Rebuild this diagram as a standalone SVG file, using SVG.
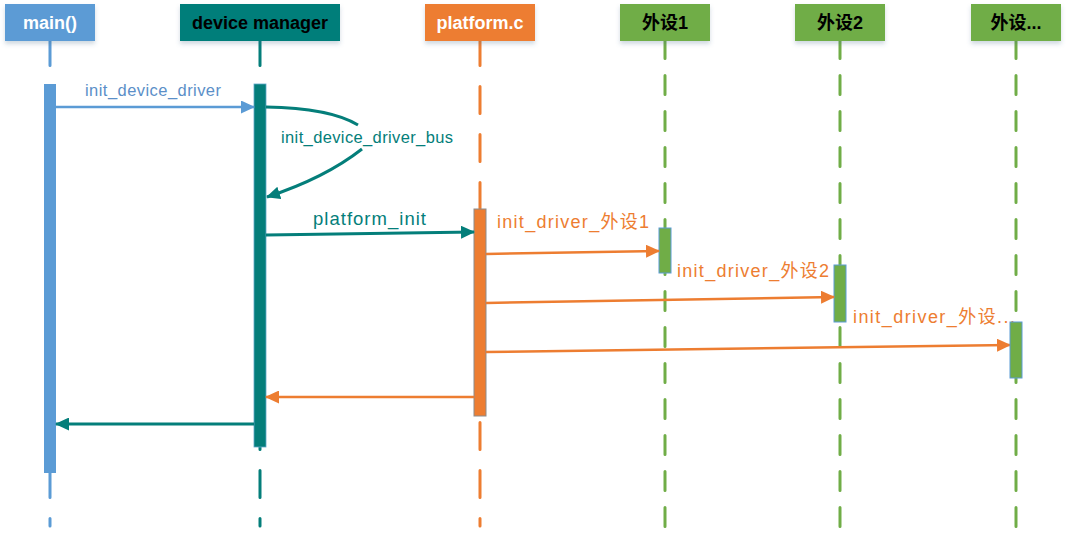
<svg xmlns="http://www.w3.org/2000/svg" width="1066" height="537" viewBox="0 0 1066 537">
  <style>
    text { font-family: 'Liberation Sans', 'Noto Sans CJK SC', sans-serif; }
    .hd { font-size: 18px; font-weight: bold; text-anchor: middle; }
    .lbl { font-size: 18px; }
    .ll { fill: none; stroke-width: 3; stroke-linecap: round; }
    .llA { stroke-dasharray: 27 21; }
    .llG { stroke-dasharray: 19 17; stroke: #70AD47; }
    .blue { fill: #5B9BD5; }
    .teal { fill: #047E7A; }
    .orange { fill: #ED7D31; }
    .green { fill: #70AD47; }
    .msg { fill: none; stroke-linecap: butt; }
  </style>
  <defs>
    <filter id="sh" x="-10%" y="-20%" width="120%" height="160%">
      <feDropShadow dx="0" dy="3" stdDeviation="2" flood-color="#4a6a8a" flood-opacity="0.25"/>
    </filter>
    <marker id="aBlue" markerUnits="userSpaceOnUse" markerWidth="14" markerHeight="13" refX="13" refY="6.5" orient="auto">
      <path d="M0,0 L14,6.5 L0,13 z" fill="#5B9BD5"/>
    </marker>
    <marker id="aTeal" markerUnits="userSpaceOnUse" markerWidth="14" markerHeight="13" refX="13" refY="6.5" orient="auto">
      <path d="M0,0 L14,6.5 L0,13 z" fill="#047E7A"/>
    </marker>
    <marker id="aOrange" markerUnits="userSpaceOnUse" markerWidth="14" markerHeight="13" refX="13" refY="6.5" orient="auto">
      <path d="M0,0 L14,6.5 L0,13 z" fill="#ED7D31"/>
    </marker>
  </defs>
  <rect width="1066" height="537" fill="#ffffff"/>

  <g id="node-main">
    <line class="ll llA" x1="50" y1="38.5" x2="50" y2="526" stroke="#5B9BD5"/>
    <rect x="5" y="4" width="90" height="37" class="blue" filter="url(#sh)"/>
    <text x="50" y="29" class="hd" fill="#ffffff">main()</text>
    <rect x="44" y="84" width="12" height="389" class="blue"/>
  </g>

  <g id="node-device-manager">
    <line class="ll llA" x1="260" y1="38.5" x2="260" y2="526" stroke="#047E7A"/>
    <rect x="180" y="4" width="160" height="37" class="teal" filter="url(#sh)"/>
    <text x="260" y="29" class="hd" fill="#000000">device manager</text>
    <rect x="254" y="84" width="12" height="363" class="teal" stroke="#5fa8c8" stroke-width="0.8"/>
  </g>

  <g id="node-platform">
    <line class="ll llA" x1="480" y1="38.5" x2="480" y2="526" stroke="#ED7D31"/>
    <rect x="425" y="4" width="110" height="37" class="orange" filter="url(#sh)"/>
    <text x="480" y="29" class="hd" fill="#ffffff">platform.c</text>
    <rect x="474" y="209" width="12" height="207" class="orange" stroke="#8c8c8c" stroke-width="1"/>
  </g>

  <g id="node-dev1">
    <line class="ll llG" x1="665" y1="39.5" x2="665" y2="526.5"/>
    <rect x="620" y="4" width="90" height="37" class="green" filter="url(#sh)"/>
    <text x="665" y="29" class="hd" fill="#000000">外设1</text>
    <rect x="659" y="228" width="12" height="45" class="green" stroke="#5B9BD5" stroke-width="1"/>
  </g>

  <g id="node-dev2">
    <line class="ll llG" x1="840" y1="39.5" x2="840" y2="526.5"/>
    <rect x="795" y="4" width="90" height="37" class="green" filter="url(#sh)"/>
    <text x="840" y="29" class="hd" fill="#000000">外设2</text>
    <rect x="834" y="265" width="12" height="57" class="green" stroke="#5B9BD5" stroke-width="1"/>
  </g>

  <g id="connectors">
    <path class="msg" d="M56,107 L254,107" stroke="#5B9BD5" stroke-width="2.5" marker-end="url(#aBlue)"/>
    <text x="85" y="96" font-size="16.5" fill="#5B8FC8" textLength="136" lengthAdjust="spacing">init_device_driver</text>

    <path class="msg" d="M266,107 Q330,108 358,125" stroke="#047E7A" stroke-width="3"/>
    <path class="msg" d="M362,149 Q325,178 267,197" stroke="#047E7A" stroke-width="3" marker-end="url(#aTeal)"/>
    <text x="281" y="143" font-size="16.5" fill="#047E7A" textLength="172" lengthAdjust="spacing">init_device_driver_bus</text>

    <path class="msg" d="M266,235 L474,232" stroke="#047E7A" stroke-width="3" marker-end="url(#aTeal)"/>
    <text x="313" y="225" font-size="18.5" fill="#047E7A" textLength="113" lengthAdjust="spacing">platform_init</text>

    <path class="msg" d="M486,254 L659,251" stroke="#ED7D31" stroke-width="2.5" marker-end="url(#aOrange)"/>
    <text x="497" y="228" class="lbl" fill="#ED7D31" textLength="152" lengthAdjust="spacing">init_driver_外设1</text>

    <path class="msg" d="M486,303 L834,297" stroke="#ED7D31" stroke-width="2.5" marker-end="url(#aOrange)"/>
    <text x="677" y="277" class="lbl" fill="#ED7D31" textLength="152" lengthAdjust="spacing">init_driver_外设2</text>

    <path class="msg" d="M486,352 L1010,345" stroke="#ED7D31" stroke-width="2.5" marker-end="url(#aOrange)"/>
    <text x="853" y="323" class="lbl" fill="#ED7D31" textLength="162" lengthAdjust="spacing">init_driver_外设...</text>

    <path class="msg" d="M474,397 L266,397" stroke="#ED7D31" stroke-width="2.5" marker-end="url(#aOrange)"/>
    <path class="msg" d="M254,424 L56,424" stroke="#047E7A" stroke-width="3" marker-end="url(#aTeal)"/>
  </g>

  <g id="node-dev3">
    <line class="ll llG" x1="1016" y1="39.5" x2="1016" y2="526.5"/>
    <rect x="971" y="4" width="90" height="37" class="green" filter="url(#sh)"/>
    <text x="1016" y="29" class="hd" fill="#000000">外设...</text>
    <rect x="1010" y="322" width="12" height="56" class="green" stroke="#5B9BD5" stroke-width="1"/>
  </g>
</svg>
